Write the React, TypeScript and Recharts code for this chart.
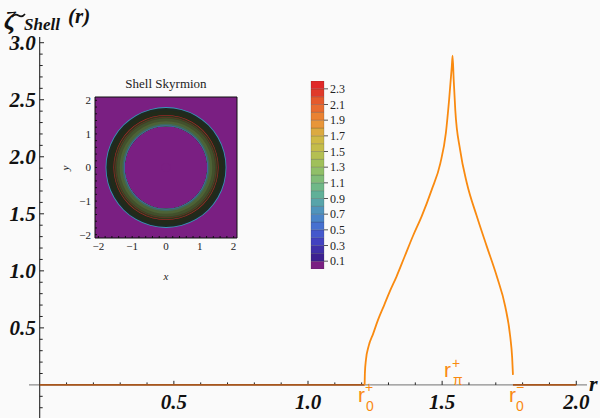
import {
  LineChart,
  Line,
  XAxis,
  YAxis,
  ReferenceLine,
  ComposedChart,
  ReferenceArea,
  Scatter,
  PieChart,
  Pie,
  BarChart,
  Bar,
} from "recharts";

// main profile ζ̃_Shell(r)
const flatHead = [
  { r: 0, v: 0 },
  { r: 1.211, v: 0 },
];
const shellCurve = [
  { r: 1.211, v: 0 },
  { r: 1.212, v: 0.1 },
  { r: 1.216, v: 0.22 },
  { r: 1.226, v: 0.34 },
  { r: 1.243, v: 0.45 },
  { r: 1.261, v: 0.57 },
  { r: 1.284, v: 0.7 },
  { r: 1.305, v: 0.82 },
  { r: 1.33, v: 0.95 },
  { r: 1.361, v: 1.13 },
  { r: 1.392, v: 1.31 },
  { r: 1.424, v: 1.48 },
  { r: 1.461, v: 1.71 },
  { r: 1.493, v: 1.94 },
  { r: 1.514, v: 2.21 },
  { r: 1.526, v: 2.5 },
  { r: 1.536, v: 2.79 },
  { r: 1.539, v: 2.886 },
  { r: 1.543, v: 2.68 },
  { r: 1.549, v: 2.41 },
  { r: 1.567, v: 2.06 },
  { r: 1.592, v: 1.77 },
  { r: 1.629, v: 1.48 },
  { r: 1.667, v: 1.21 },
  { r: 1.704, v: 0.95 },
  { r: 1.735, v: 0.69 },
  { r: 1.754, v: 0.42 },
  { r: 1.761, v: 0.24 },
  { r: 1.764, v: 0.088 },
];
const flatTail = [
  { r: 1.764, v: 0 },
  { r: 2.0, v: 0 },
];

const xMajorTicks = [0.5, 1.0, 1.5, 2.0];
const xMinorTicks = [0.1, 0.2, 0.3, 0.4, 0.6, 0.7, 0.8, 0.9, 1.1, 1.2, 1.3, 1.4, 1.6, 1.7, 1.8, 1.9];
const yMajorTicks = [0.5, 1.0, 1.5, 2.0, 2.5, 3.0];
const yMinorTicks = [
  -0.2, -0.1, 0.1, 0.2, 0.3, 0.4, 0.6, 0.7, 0.8, 0.9, 1.1, 1.2, 1.3, 1.4, 1.6, 1.7, 1.8, 1.9, 2.1, 2.2,
  2.3, 2.4, 2.6, 2.7, 2.8, 2.9,
];

// inset: density plot of the shell skyrmion
const insetTicks = [
  -2, -1.8, -1.6, -1.4, -1.2, -1, -0.8, -0.6, -0.4, -0.2, 0, 0.2, 0.4, 0.6, 0.8, 1, 1.2, 1.4, 1.6, 1.8, 2,
];
const insetFrame = [
  { x: -2.1, y: -2.1 },
  { x: 2.1, y: 2.1 },
];
const ringCenter = [{ x: 0, y: 0 }];
// band edges (inner -> outer) and colours of the ring
const ringEdges = [1.23, 1.25, 1.3, 1.38, 1.46, 1.495, 1.505, 1.55, 1.565, 1.7, 1.775, 1.8];
const ringColors = [
  "#3a68c0",
  "#3f6a5c",
  "#4d6236",
  "#43502c",
  "#3a4425",
  "#8c2a26",
  "#2f371d",
  "#b8242a",
  "#222a1a",
  "#1e2a22",
  "#3696b8",
];

// colour bar
const cbLevels = [
  0, 0.1, 0.2, 0.3, 0.4, 0.5, 0.6, 0.7, 0.8, 0.9, 1.0, 1.1, 1.2, 1.3, 1.4, 1.5, 1.6, 1.7, 1.8, 1.9, 2.0,
  2.1, 2.2, 2.3, 2.4,
];
const cbColors = [
  "#7a2082",
  "#3c2090",
  "#3f30a8",
  "#4242c0",
  "#4458cc",
  "#4670d0",
  "#4a84c8",
  "#5094bc",
  "#58a4aa",
  "#60b098",
  "#6fb888",
  "#80bc78",
  "#90bf68",
  "#a0c05a",
  "#b4bf52",
  "#c4bc4a",
  "#cfb945",
  "#dcaa40",
  "#e8963a",
  "#ea8232",
  "#e86c30",
  "#e55a2c",
  "#e03a2a",
  "#e02828",
];
const cbTicks = [0.1, 0.3, 0.5, 0.7, 0.9, 1.1, 1.3, 1.5, 1.7, 1.9, 2.1, 2.3];

const SERIF = "'Liberation Serif', 'DejaVu Serif', serif";
const SANS = "'Liberation Sans', Arial, sans-serif";
const ORANGE = "#f98a10";
const BROWN = "#a8561c";
const PURPLE = "#7a1f82";

const cbRow = [
  cbColors.reduce(
    (row, _c, i) => ({ ...row, [`b${i}`]: +(cbLevels[i + 1] - cbLevels[i]).toFixed(2) }),
    { name: "cb" } as Record<string, number | string>
  ),
];

const boldLabel = {
  fill: "#111",
  fontSize: 21,
  fontWeight: "bold",
  fontStyle: "italic",
  fontFamily: SERIF,
};

const minus = (t: number) => (Number.isInteger(t) ? String(t).replace("-", "\u2212") : "");

function MainChart() {
  return (
    <LineChart width={600} height={418} margin={{ top: 37, right: 13, bottom: 0, left: 29 }}>
      <XAxis type="number" dataKey="r" domain={[-0.04, 2.04]} hide allowDataOverflow />
      <YAxis type="number" domain={[-0.29, 3.05]} hide allowDataOverflow />
      <ReferenceLine y={0} stroke="#8c8c8c" strokeWidth={1.2} />
      <ReferenceLine x={0} stroke="#111" strokeWidth={1} />
      {xMinorTicks.map((t) => (
        <ReferenceLine
          key={`xm${t}`}
          segment={[
            { x: t, y: 0 },
            { x: t, y: 0.022 },
          ]}
          stroke="#222"
        />
      ))}
      {xMajorTicks.map((t) => (
        <ReferenceLine
          key={`xM${t}`}
          segment={[
            { x: t, y: 0 },
            { x: t, y: 0.036 },
          ]}
          stroke="#222"
          label={{ value: t.toFixed(1), position: "bottom", offset: 9, ...boldLabel }}
        />
      ))}
      {yMinorTicks.map((t) => (
        <ReferenceLine
          key={`ym${t}`}
          segment={[
            { x: 0, y: t },
            { x: 0.011, y: t },
          ]}
          stroke="#222"
        />
      ))}
      {yMajorTicks.map((t) => (
        <ReferenceLine
          key={`yM${t}`}
          segment={[
            { x: 0, y: t },
            { x: 0.016, y: t },
          ]}
          stroke="#222"
          label={{ value: t.toFixed(1), position: "left", offset: 4, ...boldLabel }}
        />
      ))}
      <Line data={flatHead} dataKey="v" stroke={BROWN} strokeWidth={1.8} dot={false} isAnimationActive={false} />
      <Line data={flatTail} dataKey="v" stroke={BROWN} strokeWidth={1.8} dot={false} isAnimationActive={false} />
      <Line
        data={shellCurve}
        dataKey="v"
        type="monotone"
        stroke={ORANGE}
        strokeWidth={1.8}
        dot={false}
        isAnimationActive={false}
      />
    </LineChart>
  );
}

function Inset() {
  const tickStyle = { fontSize: 11, fill: "#222", fontFamily: SERIF };
  return (
    <ComposedChart
      width={200}
      height={225}
      data={insetFrame}
      margin={{ top: 32, right: 18, bottom: 27, left: 15 }}
    >
      <XAxis
        xAxisId="b"
        dataKey="x"
        type="number"
        domain={[-2.1, 2.1]}
        ticks={insetTicks}
        interval={0}
        tickFormatter={minus}
        height={20}
        tickSize={-2}
        tickMargin={6}
        tick={tickStyle}
        stroke="#111"
        allowDataOverflow
      />
      <XAxis
        xAxisId="t"
        dataKey="x"
        orientation="top"
        type="number"
        domain={[-2.1, 2.1]}
        ticks={insetTicks}
        interval={0}
        tick={false}
        height={5}
        tickSize={-2}
        stroke="#111"
        allowDataOverflow
      />
      <YAxis
        yAxisId="l"
        dataKey="y"
        type="number"
        domain={[-2.1, 2.1]}
        ticks={insetTicks}
        interval={0}
        tickFormatter={minus}
        width={20}
        tickSize={-2}
        tickMargin={6}
        tick={tickStyle}
        stroke="#111"
        allowDataOverflow
      />
      <YAxis
        yAxisId="r"
        dataKey="y"
        orientation="right"
        type="number"
        domain={[-2.1, 2.1]}
        ticks={insetTicks}
        interval={0}
        tick={false}
        width={5}
        tickSize={-2}
        stroke="#111"
        allowDataOverflow
      />
      <ReferenceArea
        xAxisId="b"
        yAxisId="l"
        x1={-2.1}
        x2={2.1}
        y1={-2.1}
        y2={2.1}
        fill={PURPLE}
        fillOpacity={1}
        stroke="none"
        ifOverflow="visible"
      />
      <Scatter
        xAxisId="b"
        yAxisId="l"
        data={ringCenter}
        dataKey="y"
        fill={PURPLE}
        isAnimationActive={false}
      />
    </ComposedChart>
  );
}

function Rings() {
  // pie radius percentages are relative to half the square (2.1 units);
  // bands are painted outer first, each from the inner edge, so no seams show
  const order = ringColors.map((_c, i) => i).reverse();
  return (
    <PieChart width={142} height={141} margin={{ top: 0, right: 0, bottom: 0, left: 0 }}>
      {order.map((i) => (
        <Pie
          key={`band${i}`}
          data={[{ name: `band${i}`, value: 1, fill: ringColors[i] }]}
          dataKey="value"
          cx="50%"
          cy="50%"
          startAngle={0}
          endAngle={360}
          innerRadius={`${(ringEdges[0] / 2.1) * 100}%`}
          outerRadius={`${(ringEdges[i + 1] / 2.1) * 100}%`}
          fill={ringColors[i]}
          stroke={ringColors[i]}
          strokeWidth={0}
          isAnimationActive={false}
        />
      ))}
    </PieChart>
  );
}

function ColorBar() {
  return (
    <BarChart
      width={60}
      height={210}
      data={cbRow}
      margin={{ top: 11, right: 6, bottom: 11, left: 6 }}
      barCategoryGap={0}
    >
      <XAxis dataKey="name" hide />
      <YAxis
        orientation="right"
        type="number"
        domain={[0, 2.4]}
        ticks={cbTicks}
        interval={0}
        width={35}
        tickSize={4}
        tickMargin={2}
        axisLine={false}
        tickLine={{ stroke: "#555" }}
        tickFormatter={(t: number) => t.toFixed(1)}
        tick={{ fontSize: 12, fill: "#222", fontFamily: SERIF, textAnchor: "start" }}
        allowDataOverflow
      />
      {cbColors.map((c, i) => (
        <Bar
          key={`b${i}`}
          dataKey={`b${i}`}
          stackId="cb"
          fill={c}
          stroke="#333"
          strokeOpacity={0.35}
          strokeWidth={0.6}
          isAnimationActive={false}
        />
      ))}
    </BarChart>
  );
}

function Annotations() {
  const bi = { fontWeight: "bold", fontStyle: "italic", fontFamily: SERIF, fill: "#111" } as const;
  const o = { fontFamily: SANS, fill: ORANGE } as const;
  return (
    <svg width={600} height={418} style={{ position: "absolute", left: 0, top: 0, pointerEvents: "none" }}>
      <text x={4} y={29} fontSize={26} {...bi}>
        ζ
      </text>
      {/* tilde accent over ζ */}
      <path d="M12 17 q3 -4 6.5 -1.5 t6.5 -1.5" stroke="#111" strokeWidth={1.6} fill="none" />
      <text x={24} y={30} fontSize={17} {...bi}>
        Shell
      </text>
      <text x={68} y={23} fontSize={21} {...bi}>
        (r)
      </text>
      <text x={589} y={391} fontSize={22} {...bi}>
        r
      </text>

      <text x={358} y={402} fontSize={21} {...o}>
        r
      </text>
      <text x={366} y={411} fontSize={14} {...o}>
        0
      </text>
      <text x={365} y={392} fontSize={14} {...o}>
        +
      </text>

      <text x={444} y={377} fontSize={21} {...o}>
        r
      </text>
      <text x={453} y={385} fontSize={14} {...o}>
        π
      </text>
      <text x={452} y={368} fontSize={14} {...o}>
        +
      </text>

      <text x={509} y={402} fontSize={21} {...o}>
        r
      </text>
      <text x={516} y={411} fontSize={14} {...o}>
        0
      </text>
      <text x={516} y={392} fontSize={14} {...o}>
        −
      </text>

      <text x={166} y={88} fontSize={13} textAnchor="middle" fontFamily={SERIF} fill="#222">
        Shell Skyrmion
      </text>
      <text x={166} y={280} fontSize={11} textAnchor="middle" fontStyle="italic" fontFamily={SERIF} fill="#222">
        x
      </text>
      <text
        transform="translate(69,168) rotate(-90)"
        fontSize={11}
        textAnchor="middle"
        fontStyle="italic"
        fontFamily={SERIF}
        fill="#222"
      >
        y
      </text>
    </svg>
  );
}

export default function App() {
  return (
    <div
      style={{
        position: "fixed",
        left: 0,
        top: 0,
        width: 600,
        height: 418,
        background: "#fafafa",
        overflow: "hidden",
      }}
    >
      <div style={{ position: "absolute", left: 0, top: 0 }}>
        <MainChart />
      </div>
      <div style={{ position: "absolute", left: 60, top: 60 }}>
        <Inset />
      </div>
      <div style={{ position: "absolute", left: 95, top: 97 }}>
        <Rings />
      </div>
      <div style={{ position: "absolute", left: 305, top: 70 }}>
        <ColorBar />
      </div>
      <Annotations />
    </div>
  );
}
